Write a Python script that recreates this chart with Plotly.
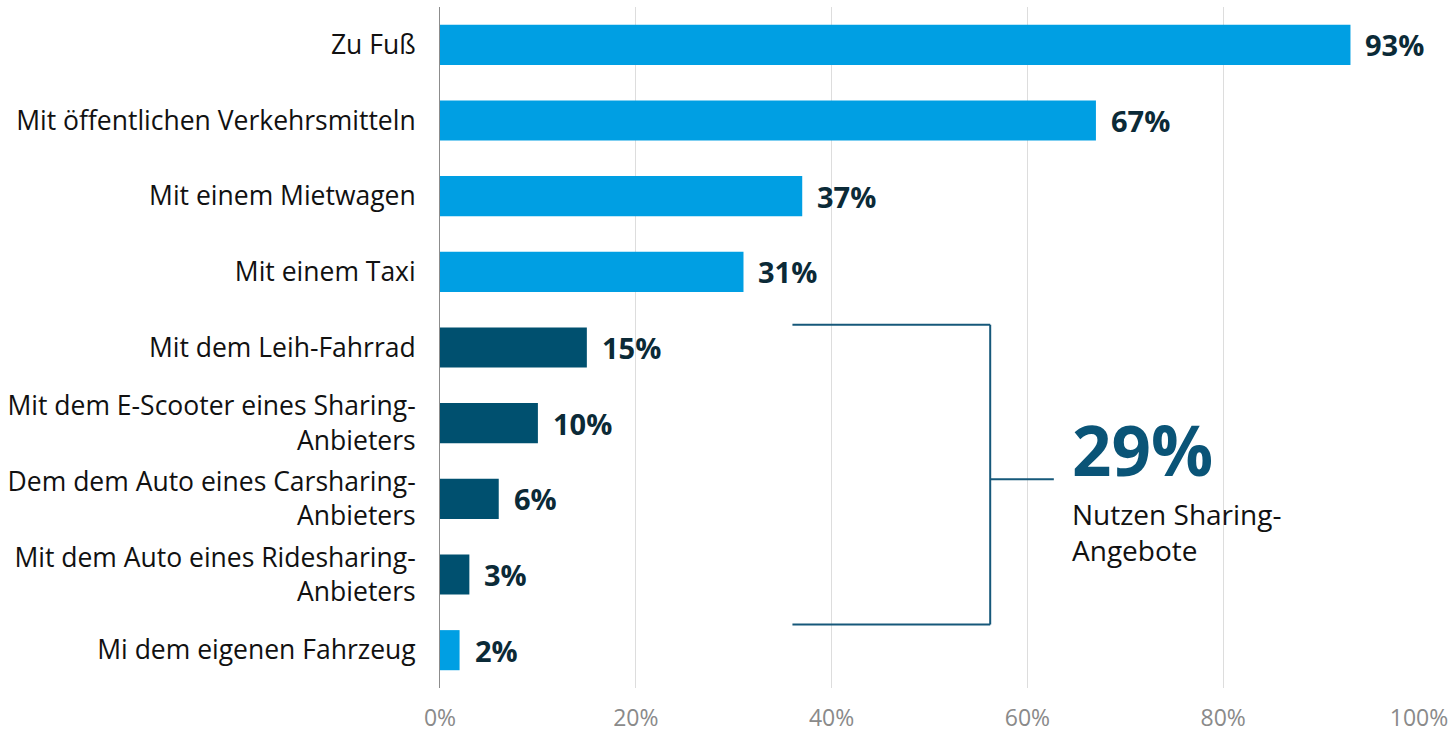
import plotly.graph_objects as go

categories = [
    "Zu Fuß",
    "Mit öffentlichen Verkehrsmitteln",
    "Mit einem Mietwagen",
    "Mit einem Taxi",
    "Mit dem Leih-Fahrrad",
    "Mit dem E-Scooter eines Sharing-<br>Anbieters",
    "Dem dem Auto eines Carsharing-<br>Anbieters",
    "Mit dem Auto eines Ridesharing-<br>Anbieters",
    "Mi dem eigenen Fahrzeug",
]
values = [93, 67, 37, 31, 15, 10, 6, 3, 2]
is_sharing = [False, False, False, False, True, True, True, True, False]
tick_vals = [0, 20, 40, 60, 80, 100]
tick_text = ["0%", "20%", "40%", "60%", "80%", "100%"]
summary_value = "29%"
summary_text = "Nutzen Sharing-<br>Angebote"

LIGHT = "#009FE3"
DARK = "#00506F"
LABEL = "#0B2A37"
BRACKET = "#16587A"
FONT = "Open Sans"

colors = [DARK if s else LIGHT for s in is_sharing]

fig = go.Figure()
fig.add_trace(go.Bar(
    x=values, y=categories, orientation="h",
    marker=dict(color=colors, line=dict(width=0)),
    width=0.53, hoverinfo="skip",
))

annotations = []
for c, v in zip(categories, values):
    annotations.append(dict(
        x=v, y=c, xref="x", yref="y", text=f"<b>{v}%</b>",
        showarrow=False, xanchor="left", yanchor="middle", xshift=13,
        font=dict(family=FONT, size=29, color=LABEL),
    ))

annotations.append(dict(
    x=64.3, y=5.34, xref="x", yref="y", text=f"<b>{summary_value}</b>",
    showarrow=False, xanchor="left", yanchor="middle",
    font=dict(family=FONT, size=69, color="#0A5477"),
))
annotations.append(dict(
    x=64.3, y=6.44, xref="x", yref="y", text=summary_text,
    showarrow=False, xanchor="left", yanchor="middle", align="left",
    font=dict(family=FONT, size=28, color="#111111"),
))

line = dict(color=BRACKET, width=2)
shapes = [
    dict(type="line", xref="x", yref="y", x0=36.0, x1=56.2, y0=3.70, y1=3.70, line=line),
    dict(type="line", xref="x", yref="y", x0=36.0, x1=56.2, y0=7.66, y1=7.66, line=line),
    dict(type="line", xref="x", yref="y", x0=56.2, x1=56.2, y0=3.70, y1=7.66, line=line),
    dict(type="line", xref="x", yref="y", x0=56.2, x1=62.7, y0=5.74, y1=5.74, line=line),
]

fig.update_layout(
    width=1455, height=732,
    margin=dict(l=440, r=36, t=7, b=44),
    paper_bgcolor="white", plot_bgcolor="white",
    showlegend=False,
    font=dict(family=FONT),
    annotations=annotations,
    shapes=shapes,
    xaxis=dict(
        range=[0, 100], tickvals=tick_vals, ticktext=tick_text,
        showgrid=True, gridcolor="#DDDDDD", gridwidth=1,
        zeroline=False, showline=False, automargin=False,
        tickfont=dict(family=FONT, size=23, color="#8A8A8A"),
        ticklabelstandoff=14, fixedrange=True,
    ),
    yaxis=dict(
        autorange="reversed", showgrid=False, zeroline=False,
        showline=True, linecolor="#8C8C8C", linewidth=1, automargin=False,
        tickfont=dict(family=FONT, size=26.5, color="#111111"),
        ticklabelstandoff=18, fixedrange=True,
    ),
)

fig.write_html("out.html")
